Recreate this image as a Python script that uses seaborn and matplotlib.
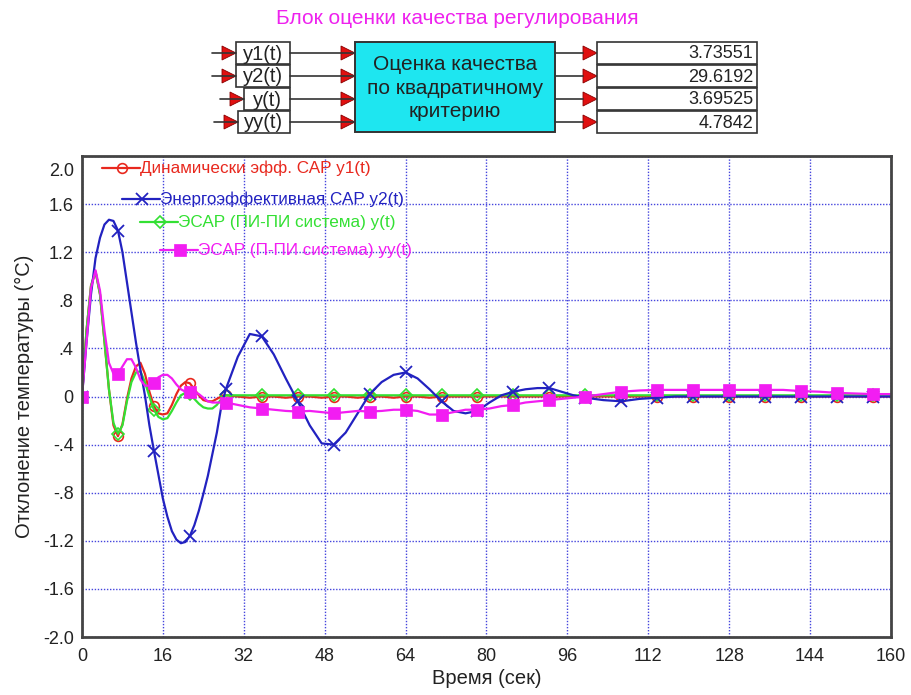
import numpy as np
import pandas as pd
import seaborn as sns
import matplotlib
matplotlib.use("Agg")
import matplotlib.pyplot as plt
from matplotlib import patches, transforms

# ---- data -----------------------------------------------------------------
time_s = [
    0.00, 0.89, 1.78, 2.67, 3.56, 4.44, 5.33, 6.22, 7.11, 8.00, 8.89, 9.78,
    10.67, 11.56, 12.44, 13.33, 14.22, 15.11, 16.00, 16.89, 17.78, 18.67,
    19.56, 20.44, 21.33, 22.22, 23.11, 24.00, 24.89, 25.78, 26.67, 27.56, 28.44,
    30.81, 33.19, 35.56, 37.93, 40.30, 42.67, 45.04, 47.41, 49.78, 52.15,
    54.52, 56.89, 59.26, 61.63, 64.00, 66.37, 68.74, 71.11, 73.48, 75.85,
    78.22, 80.59, 82.96, 85.33, 87.70, 90.07, 92.44, 94.81, 97.19, 99.56,
    103.11, 106.67, 110.22, 113.78, 117.33, 120.89, 124.44, 128.00, 131.56,
    135.11, 138.67, 142.22, 145.78, 149.33, 152.89, 156.44, 160.00,
]

y1 = [
    0.00, 0.55, 0.92, 1.04, 0.85, 0.46, 0.06, -0.24, -0.33, -0.23, -0.02, 0.15,
    0.25, 0.28, 0.19, 0.04, -0.08, -0.14, -0.15, -0.14, -0.07, 0.02,
    0.09, 0.12, 0.11, 0.06, 0.01, -0.03, -0.04, -0.04, -0.02, 0.00, 0.01,
    0.00, -0.01, 0.00, 0.00, -0.01, 0.00, 0.00, -0.01, 0.00, 0.00,
    -0.01, 0.00, 0.00, -0.01, 0.00, 0.00, -0.01, 0.00, 0.00, 0.00,
    0.00, 0.00, 0.00, 0.00, 0.00, 0.00, 0.00, 0.00, 0.00, 0.00,
    0.00, 0.00, 0.00, 0.00, 0.00, 0.00, 0.00, 0.00, 0.00,
    0.00, 0.00, 0.00, 0.00, 0.00, 0.00, 0.00, 0.00,
]

y2 = [
    0.00, 0.45, 0.85, 1.15, 1.32, 1.43, 1.47, 1.46, 1.38, 1.20, 0.95, 0.70,
    0.45, 0.22, 0.01, -0.24, -0.45, -0.65, -0.85, -1.00, -1.12, -1.19,
    -1.22, -1.21, -1.16, -1.07, -0.95, -0.81, -0.66, -0.48, -0.30, -0.08, 0.06,
    0.33, 0.52, 0.50, 0.35, 0.15, -0.04, -0.24, -0.39, -0.40, -0.30,
    -0.14, 0.02, 0.12, 0.18, 0.20, 0.15, 0.06, -0.04, -0.12, -0.14,
    -0.12, -0.05, 0.01, 0.04, 0.06, 0.07, 0.07, 0.04, 0.01, -0.01,
    -0.03, -0.04, -0.02, -0.01, 0.00, 0.00, 0.00, 0.00, 0.00,
    0.00, 0.00, 0.00, 0.00, 0.00, 0.00, 0.00, 0.00,
]

y = [
    0.00, 0.55, 0.92, 1.04, 0.85, 0.46, 0.06, -0.22, -0.31, -0.24, -0.04, 0.12,
    0.20, 0.21, 0.12, 0.00, -0.11, -0.17, -0.19, -0.18, -0.12, -0.05,
    0.01, 0.03, 0.02, -0.02, -0.06, -0.09, -0.10, -0.10, -0.07, -0.02, 0.01,
    0.01, 0.01, 0.01, 0.01, 0.01, 0.01, 0.01, 0.01, 0.01, 0.01,
    0.01, 0.01, 0.01, 0.01, 0.01, 0.01, 0.01, 0.01, 0.01, 0.01,
    0.01, 0.01, 0.01, 0.01, 0.01, 0.01, 0.01, 0.01, 0.01, 0.01,
    0.01, 0.01, 0.01, 0.01, 0.01, 0.01, 0.01, 0.01, 0.01,
    0.01, 0.01, 0.01, 0.01, 0.01, 0.01, 0.01, 0.01,
]

yy = [
    0.00, 0.45, 0.90, 1.05, 0.88, 0.55, 0.28, 0.19, 0.19, 0.25, 0.31, 0.31,
    0.24, 0.14, 0.09, 0.09, 0.11, 0.16, 0.18, 0.18, 0.15, 0.10,
    0.06, 0.04, 0.04, 0.04, 0.02, -0.01, -0.04, -0.05, -0.05, -0.05, -0.05,
    -0.07, -0.09, -0.10, -0.11, -0.12, -0.125, -0.12, -0.13, -0.14, -0.13,
    -0.12, -0.125, -0.12, -0.11, -0.11, -0.12, -0.15, -0.15, -0.13, -0.11,
    -0.11, -0.10, -0.08, -0.07, -0.05, -0.04, -0.03, -0.02, -0.01, 0.00,
    0.02, 0.04, 0.05, 0.055, 0.055, 0.055, 0.055, 0.055, 0.055,
    0.055, 0.055, 0.045, 0.04, 0.03, 0.025, 0.02, 0.02,
]

series_labels = [
    "Динамически эфф. САР y1(t)",
    "Энергоэффективная САР y2(t)",
    "ЭСАР (ПИ-ПИ система) y(t)",
    "ЭСАР (П-ПИ система) yy(t)",
]

input_names = ["y1(t)", "y2(t)", "y(t)", "yy(t)"]
quality_values = ["3.73551", "29.6192", "3.69525", "4.7842"]

x_ticks = [0, 16, 32, 48, 64, 80, 96, 112, 128, 144, 160]
y_ticks = [-2.0, -1.6, -1.2, -0.8, -0.4, 0.0, 0.4, 0.8, 1.2, 1.6, 2.0]
y_tick_labels = ["-2.0", "-1.6", "-1.2", "-.8", "-.4", "0", ".4", ".8", "1.2", "1.6", "2.0"]

# ---- styling --------------------------------------------------------------
sns.set_theme(style="white")
plt.rcParams["font.family"] = ["Liberation Sans", "DejaVu Sans"]

W, H = 912, 695
fig = plt.figure(figsize=(W / 100, H / 100), dpi=100)

AX_L, AX_R, AX_T, AX_B = 82, 891, 156, 637
ax = fig.add_axes([AX_L / W, 1 - AX_B / H, (AX_R - AX_L) / W, (AX_B - AX_T) / H])

df = pd.DataFrame({"t": time_s, "y1": y1, "y2": y2, "y": y, "yy": yy})

# marker every 160/22.5 seconds
step = 160 / 22.5
mark_idx = [i for i, t in enumerate(time_s) if abs(t / step - round(t / step)) < 0.02]

RED, BLUE, GREEN, MAG = "#e8281e", "#2222c0", "#33e033", "#f21df2"

styles = {
    "y1": dict(color=RED, marker="o", markersize=7, markerfacecolor="none",
               markeredgecolor=RED, markeredgewidth=1.2),
    "y2": dict(color=BLUE, marker="x", markersize=8, markeredgecolor=BLUE,
               markeredgewidth=1.3),
    "y": dict(color=GREEN, marker="D", markersize=6, markerfacecolor="none",
              markeredgecolor=GREEN, markeredgewidth=1.2),
    "yy": dict(color=MAG, marker="s", markersize=8.5, markerfacecolor=MAG,
               markeredgecolor=MAG, markeredgewidth=0.5),
}

for col in ["y1", "y", "y2", "yy"]:
    sns.lineplot(data=df, x="t", y=col, ax=ax, sort=False, estimator=None,
                 linewidth=1.6, markevery=mark_idx, legend=False, **styles[col])

ax.set_xlim(0, 160)
ax.set_ylim(-2.0, 2.0)
ax.set_xticks(x_ticks)
ax.set_xticklabels([str(v) for v in x_ticks], fontsize=13)
ax.set_yticks(y_ticks)
ax.set_yticklabels(y_tick_labels, fontsize=13)
ax.tick_params(axis="both", length=0, pad=6, colors="#222222")
ax.tick_params(axis="x", pad=8)
ax.grid(True, color="#4444dd", linestyle=(0, (1, 1.2)), linewidth=1.0)
for sp in ax.spines.values():
    sp.set_color("#444444")
    sp.set_linewidth(2)
ax.set_xlabel("Время (сек)", fontsize=14.5, color="#222222", labelpad=3)
ax.set_ylabel("Отклонение температуры (°С)", fontsize=14.5, color="#222222", labelpad=6)

# staggered legend in the upper-left corner
def ax_frac(px, py):
    return (px - AX_L) / (AX_R - AX_L), (AX_B - py) / (AX_B - AX_T)

legend_rows = [(102, 168), (122, 199), (140, 222), (160, 250)]
for (col, label, (lx, ly)) in zip(["y1", "y2", "y", "yy"], series_labels, legend_rows):
    x0, yy0 = ax_frac(lx, ly)
    x1, _ = ax_frac(lx + 38, ly)
    xm, _ = ax_frac(lx + 20, ly)
    st = styles[col]
    ax.plot([x0, x1], [yy0, yy0], transform=ax.transAxes, color=st["color"],
            linewidth=1.6, clip_on=False, zorder=5)
    mk = {k: v for k, v in st.items() if k != "color"}
    ax.plot([xm], [yy0], transform=ax.transAxes, color=st["color"], linestyle="none",
            clip_on=False, zorder=6, **mk)
    ax.text(x1, yy0, label, transform=ax.transAxes, color=st["color"],
            fontsize=12.3, va="center", ha="left", zorder=6)

# ---- block diagram above the axes -----------------------------------------
def fx(px):
    return px / W

def fy(py):
    return 1 - py / H

def rect(x0, y0, x1, y1_, face="white", edge="#333333", lw=1.2):
    fig.add_artist(patches.Rectangle((fx(x0), fy(y1_)), fx(x1) - fx(x0), fy(y0) - fy(y1_),
                                     transform=fig.transFigure, facecolor=face,
                                     edgecolor=edge, linewidth=lw))

def hline(x0, x1, py):
    fig.add_artist(plt.Line2D([fx(x0), fx(x1)], [fy(py), fy(py)], transform=fig.transFigure,
                              color="#333333", linewidth=1.2))

def arrow(xtip, py, size=14, half=7):
    fig.add_artist(patches.Polygon([(fx(xtip - size), fy(py - half)), (fx(xtip), fy(py)),
                                    (fx(xtip - size), fy(py + half))], closed=True,
                                   transform=fig.transFigure, facecolor="#e01010",
                                   edgecolor="#8a0000", linewidth=0.6))

fig.text(fx(457), fy(18), "Блок оценки качества регулирования", color="#ee22ee",
         fontsize=15, ha="center", va="center")

rows_y = [(42, 64), (65, 87), (88, 110), (111, 133)]
in_left = [236, 236, 244, 238]
for (top, bot), left, name, val in zip(rows_y, in_left, input_names, quality_values):
    mid = (top + bot) / 2
    hline(left - 24, left, mid)
    arrow(left, mid)
    rect(left, top, 290, bot)
    fig.text(fx((left + 290) / 2), fy(mid + 1), name, fontsize=14.5, ha="center",
             va="center", color="#222222")
    hline(290, 354, mid)
    arrow(355, mid)
    hline(555, 583, mid)
    arrow(597, mid)
    rect(597, top, 757, bot)
    fig.text(fx(753), fy(mid + 1), val, fontsize=13, ha="right", va="center",
             color="#222222")

rect(355, 42, 555, 132, face="#1ee6f0", edge="#333333", lw=1.4)
fig.text(fx(455), fy(88), "Оценка качества\nпо квадратичному\nкритерию", fontsize=15,
         ha="center", va="center", color="#222222", linespacing=1.3)

# keep the top y label inside the frame
top_lbl = ax.get_yticklabels()[-1]
top_lbl.set_transform(top_lbl.get_transform() +
                      transforms.ScaledTranslation(0, -13 / 100, fig.dpi_scale_trans))

fig.savefig("out.png", dpi=100, facecolor="white")
